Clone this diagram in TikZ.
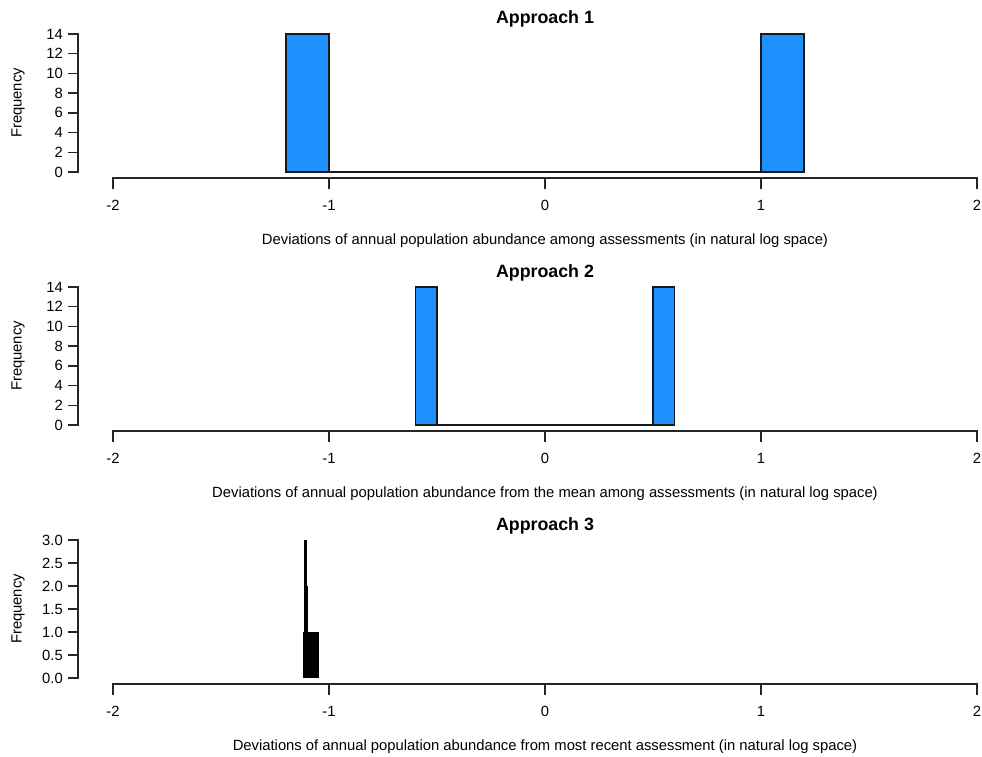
\documentclass[tikz,border=0pt]{standalone}
\usepackage{fontspec}
\setmainfont{Liberation Sans}
\definecolor{dodger}{HTML}{1E90FF}
\begin{document}
\begin{tikzpicture}[x=1pt,y=-1pt,
  axisline/.style={line width=1.4pt,line cap=rect,draw=black!85},
  bar/.style={draw=black!90,line width=1.2pt},
  ticklab/.style={inner sep=0pt,font=\fontsize{14.8}{17}\selectfont},
  axlab/.style={inner sep=0pt,anchor=base,font=\fontsize{14.8}{17}\selectfont},
  ttl/.style={inner sep=0pt,anchor=base,font=\bfseries\fontsize{17.8}{20}\selectfont}]
\useasboundingbox[fill=white] (0,0) rectangle (982,757);
% ---------- common axes ----------
\foreach \p/\off in {1/0,2/253,3/506}{
  \begin{scope}[yshift=-\off pt]
    \draw[axisline] (113,178) -- (977,178);
    \foreach \xv/\lab [count=\i] in {113/-2,329/-1,545/0,761/1,977/2}{
      \draw[axisline] (\xv,178) -- (\xv,188);
      \node[ticklab,anchor=base] (xt\p\i) at (\xv,210) {\lab};
    }
    \draw[axisline] (78,34) -- (78,172);
    \node[ticklab,rotate=90] (freq\p) at (18,103) {Frequency};
    \node[ttl] (title\p) at (545,24) {Approach \p};
  \end{scope}
}
% y ticks panels 1 and 2
\foreach \off/\p in {0/1,253/2}{
  \begin{scope}[yshift=-\off pt]
    \foreach \k [count=\i] in {0,2,...,14}{
      \draw[axisline] (69,{172-9.857*\k}) -- (78,{172-9.857*\k});
      \node[ticklab,anchor=east] (yt\p\i) at (63,{172-9.857*\k}) {\k};
    }
  \end{scope}
}
% y ticks panel 3
\begin{scope}[yshift=-506pt]
  \foreach \lab [count=\i] in {0.0,0.5,1.0,1.5,2.0,2.5,3.0}{
    \draw[axisline] (69,{172-23*(\i-1)}) -- (78,{172-23*(\i-1)});
    \node[ticklab,anchor=east] (yt3\i) at (63,{172-23*(\i-1)}) {\lab};
  }
\end{scope}
% x labels
\node[axlab] (xl1) at (545,244) {Deviations of annual population abundance among assessments (in natural log space)};
\node[axlab] (xl2) at (545,497) {Deviations of annual population abundance from the mean among assessments (in natural log space)};
\node[axlab] (xl3) at (545,750) {Deviations of annual population abundance from most recent assessment (in natural log space)};
% ---------- panel 1 bars ----------
\draw[bar] (329,172) -- (761,172);
\draw[bar,fill=dodger] (286,172) rectangle (329,34);
\draw[bar,fill=dodger] (761,172) rectangle (804,34);
% ---------- panel 2 bars ----------
\draw[bar] (437,425) -- (653,425);
\draw[bar,fill=dodger] (415.4,425) rectangle (437,287);
\draw[bar,fill=dodger] (653,425) rectangle (674.6,287);
% ---------- panel 3 bars ----------
\fill[black] (303,678) rectangle (319,632);
\fill[black] (304.2,678) rectangle (306.5,540);
\fill[black] (305.5,678) rectangle (308,586);
\end{tikzpicture}
\end{document}
